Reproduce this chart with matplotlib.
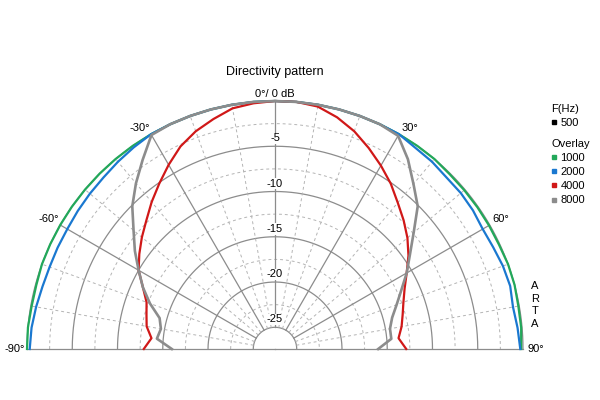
import numpy as np
import matplotlib
matplotlib.use("Agg")
import matplotlib.pyplot as plt
from matplotlib.lines import Line2D

plt.rcParams['font.family'] = ['Liberation Sans', 'DejaVu Sans']

# angles (deg), 0 = on axis, right side positive
angles = [-90, -85, -80, -75, -70, -65, -60, -55, -50, -45, -40, -35, -30,
          -25, -20, -15, -10, -5, 0, 5, 10, 15, 20, 25,
          30, 35, 40, 45, 50, 55, 60, 65, 70, 75, 80, 85, 90]

# levels in dB
db_1000 = [0.0, 0.0, -0.1, -0.1, 0.0, 0.0, 0.0, 0.0, 0.0, 0.0, 0.0, 0.0, 0.0,
           0.0, 0.0, 0.0, 0.0, 0.0, 0.0, 0.0, 0.0, 0.0, 0.0, 0.0,
           0.0, 0.0, 0.0, -0.1, -0.1, -0.1, -0.1, -0.1, 0.0, 0.0, -0.1, -0.1, -0.2]
db_2000 = [-0.3, -0.4, -0.6, -0.8, -0.9, -0.9, -0.9, -0.8, -0.7, -0.6, -0.4, -0.2, 0.0,
           0.0, 0.0, 0.0, 0.0, 0.0, 0.0, 0.0, 0.0, 0.0, 0.0, 0.0,
           0.0, -0.3, -0.4, -0.6, -0.6, -0.7, -0.9, -0.8, -0.6, -0.5, -0.7, -0.5, -0.3]
db_4000 = [-12.9, -13.7, -13.0, -12.7, -12.3, -11.3, -10.0, -9.1, -8.2, -7.3, -6.2, -5.1, -3.9,
           -2.7, -1.8, -1.1, -0.4, -0.15, 0.0, 0.0, -0.2, -0.9, -1.8, -2.9,
           -4.0, -5.1, -6.3, -7.3, -8.3, -9.4, -10.6, -11.6, -12.3, -12.8, -13.2, -13.7, -12.9]
db_8000 = [-16.0, -14.3, -14.6, -14.2, -12.7, -11.3, -10.0, -8.5, -7.0, -5.1, -3.5, -1.9, -0.1,
           0.0, 0.0, 0.0, 0.0, 0.0, 0.0, 0.0, 0.0, 0.0, 0.0, 0.0,
           -0.2, -1.8, -3.6, -5.1, -7.4, -9.2, -10.6, -12.0, -13.1, -14.0, -14.5, -14.5, -16.0]

freqs = ['1000', '2000', '4000', '8000']
colors = ['#22a85a', '#1a78d0', '#d01818', '#8c8c8c']

ring_solid = [0, -5, -10, -15, -20, -25]
ring_dash = [-2.5, -7.5, -12.5, -17.5, -22.5]
spoke_solid = [-60, -30, 0, 30, 60]
spoke_dash = [-80, -70, -50, -40, -20, -10, 10, 20, 40, 50, 70, 80]
r_min = -27.4

# full polar axes, centre at (275, 349) px, radius 248 px; only upper half is drawn
fig = plt.figure(figsize=(6, 4), dpi=100)
cx, cy, R = 275, 400 - 349, 248
ax = fig.add_axes([(cx - R) / 600, (cy - R) / 400, 2 * R / 600, 2 * R / 400], projection='polar')
ax.set_theta_zero_location('N')
ax.set_theta_direction(-1)
ax.set_rlim(r_min, 0)
ax.grid(False)
ax.set_xticks([])
ax.set_yticks([])
ax.patch.set_visible(False)
for s in ax.spines.values():
    s.set_visible(False)

# grid
th = np.deg2rad(np.linspace(-90, 90, 361))
for r in ring_solid:
    ax.plot(th, np.full_like(th, r), color='#8c8c8c', lw=0.9, zorder=1, clip_on=False)
for r in ring_dash:
    ax.plot(th, np.full_like(th, r), color='#b4b4b4', lw=0.7, ls=(0, (3, 3)), zorder=1)
for a in spoke_solid:
    ax.plot([np.deg2rad(a)] * 2, [-25, 0], color='#8c8c8c', lw=0.9, zorder=1)
for a in spoke_dash:
    ax.plot([np.deg2rad(a)] * 2, [-25, 0], color='#b4b4b4', lw=0.7, ls=(0, (3, 3)), zorder=1)
for a in (-90, 90):
    ax.plot([np.deg2rad(a)] * 2, [r_min, 0], color='#8c8c8c', lw=0.9, zorder=1, clip_on=False)

# curves
t = np.deg2rad(angles)
widths = [1.6, 1.6, 1.6, 1.9]
for vals, c, w in zip([db_1000, db_2000, db_4000, db_8000], colors, widths):
    ax.plot(t, vals, color=c, lw=w, zorder=3, clip_on=False)

# radial labels
for r in ring_solid[1:]:
    ax.annotate(str(r), (0, r), xytext=(0, 2), textcoords='offset points',
                ha='center', va='bottom', fontsize=8, zorder=2,
                bbox=dict(boxstyle='square,pad=0.05', fc='white', ec='none'))

# angle labels
ax.annotate('0°/ 0 dB', (0, 0), xytext=(0, 1.5), textcoords='offset points',
            ha='center', va='bottom', fontsize=8, annotation_clip=False)
for a, ha in [(-30, 'right'), (30, 'left'), (-60, 'right'), (60, 'left')]:
    dx = -1 if ha == 'right' else 2
    ax.annotate(f'{a}°', (np.deg2rad(a), 0), xytext=(dx, 1), textcoords='offset points',
                ha=ha, va='bottom', fontsize=8, annotation_clip=False)
ax.annotate('-90°', (np.deg2rad(-90), 0), xytext=(-1.5, 0), textcoords='offset points',
            ha='right', va='center', fontsize=8, annotation_clip=False)
ax.annotate('90°', (np.deg2rad(90), 0), xytext=(3, 0), textcoords='offset points',
            ha='left', va='center', fontsize=8, annotation_clip=False)

fig.text(275 / 600, 1 - 72 / 400, 'Directivity pattern', ha='center', va='center', fontsize=9)
fig.text(535 / 600, 1 - 305 / 400, 'A\nR\nT\nA', ha='center', va='center',
         fontsize=8, linespacing=1.3)

# legends
h1 = [Line2D([], [], marker='s', ls='none', color='black', ms=3.5)]
fig.legend(h1, ['500'], title='F(Hz)', loc='upper left', frameon=False,
           bbox_to_anchor=(546 / 600, 1 - 98 / 400), fontsize=8, title_fontsize=8,
           handlelength=0.5, handletextpad=0.3, borderpad=0, labelspacing=0.38,
           alignment='left')
h2 = [Line2D([], [], marker='s', ls='none', color=c, ms=3.5) for c in colors]
fig.legend(h2, freqs, title='Overlay', loc='upper left', frameon=False,
           bbox_to_anchor=(546 / 600, 1 - 133 / 400), fontsize=8, title_fontsize=8,
           handlelength=0.5, handletextpad=0.3, borderpad=0, labelspacing=0.38,
           alignment='left')

fig.savefig('out.png', dpi=100, facecolor='white')
